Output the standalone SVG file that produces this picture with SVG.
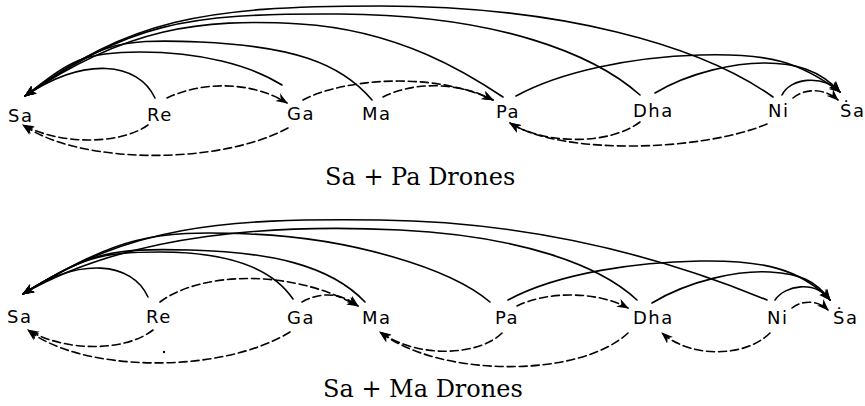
<svg xmlns="http://www.w3.org/2000/svg" width="865" height="406" viewBox="0 0 865 406">
<style>
.lbl{font-family:"DejaVu Sans","Liberation Sans",sans-serif;font-size:18px;letter-spacing:1.5px;fill:#000}
.ttl{font-family:"DejaVu Serif","Liberation Serif",serif;font-size:24px;fill:#000}
.c{fill:none;stroke:#000;stroke-width:1.6;stroke-linecap:round}
.s{marker-end:url(#ah)}
.d{stroke-dasharray:8 4}
</style>
<defs>
<marker id="ah" viewBox="0 0 12 10" refX="11" refY="5" markerWidth="12" markerHeight="10" markerUnits="userSpaceOnUse" orient="auto">
<path d="M0,0.5 L12,5 L0,9.5 L3.5,5 Z" fill="#000"/>
</marker>
</defs>
<rect width="865" height="406" fill="#fff"/>

<g id="connectors-top">
<path class="c s" d="M155,98 C138,62 85,56 25,96"/>
<path class="c s" d="M282,85 C250,65 200,52 140,52 S70,62 25,96"/>
<path class="c s" d="M372,100 C340,62 290,46 200,42 S100,45 25,96"/>
<path class="c s" d="M503,97 C470,75 400,30 300,24 S125,28 25,96"/>
<path class="c s" d="M640,95 C595,55 500,15 340,14 S130,24 25,96"/>
<path class="c s" d="M773,97 C700,45 560,6 380,6 S130,20 25,96"/>
<path class="c s" d="M516,96 C560,72 630,57 700,55 S800,62 840,92"/>
<path class="c s" d="M655,93 C690,72 735,63 765,63 S820,70 840,92"/>
<path class="c s" d="M782,95 C790,78 822,74 840,92"/>
<path class="c s d" d="M167,98 C200,82 250,80 287,103"/>
<path class="c s d" d="M303,100 C340,80 430,70 493,100"/>
<path class="c s d" d="M383,97 C410,83 455,80 493,100"/>
<path class="c s d" d="M793,98 C805,88 825,88 838,100"/>
<path class="c s d" d="M148,125 C120,145 60,145 23,125"/>
<path class="c s d" d="M288,128 C220,165 80,165 23,125"/>
<path class="c s d" d="M640,122 C610,145 545,145 510,123"/>
<path class="c s d" d="M767,124 C700,152 560,155 510,123"/>
</g>

<g id="connectors-bottom">
<path class="c s" d="M148,297 C132,262 80,256 23,294"/>
<path class="c s" d="M293,299 C270,265 220,252 160,252 S80,258 23,294"/>
<path class="c s" d="M365,302 C330,265 270,252 190,250 S90,252 23,294"/>
<path class="c s" d="M490,302 C450,268 350,238 250,234 S120,236 23,294"/>
<path class="c s" d="M637,300 C600,265 520,236 400,230 S130,232 23,294"/>
<path class="c s" d="M767,300 C670,260 540,222 380,220 S130,226 23,294"/>
<path class="c s" d="M508,300 C560,272 640,262 700,261 S800,268 830,300"/>
<path class="c s" d="M652,303 C690,280 740,270 770,272 S815,280 830,300"/>
<path class="c s" d="M775,300 C785,285 815,280 830,300"/>
<path class="c s d" d="M160,302 C200,272 290,268 358,306"/>
<path class="c s d" d="M302,302 C320,292 340,292 358,306"/>
<path class="c s d" d="M517,306 C545,292 595,290 628,308"/>
<path class="c s d" d="M792,308 C802,300 818,300 828,310"/>
<path class="c s d" d="M153,330 C125,352 65,352 28,330"/>
<path class="c s d" d="M290,332 C220,375 80,372 28,330"/>
<path class="c s d" d="M502,333 C480,355 420,360 380,332"/>
<path class="c s d" d="M628,333 C580,378 440,378 380,332"/>
<path class="c s d" d="M770,333 C745,358 690,358 662,333"/>
<circle cx="164" cy="352" r="1.2" fill="#000"/>
</g>

<g id="top-Sa"><text class="lbl" x="8" y="122">Sa</text></g>
<g id="top-Re"><text class="lbl" x="147" y="121">Re</text></g>
<g id="top-Ga"><text class="lbl" x="287" y="120">Ga</text></g>
<g id="top-Ma"><text class="lbl" x="362" y="120">Ma</text></g>
<g id="top-Pa"><text class="lbl" x="496" y="118">Pa</text></g>
<g id="top-Dha"><text class="lbl" x="633" y="117">Dha</text></g>
<g id="top-Ni"><text class="lbl" x="768" y="117">Ni</text></g>
<g id="top-Sa2"><text class="lbl" x="840" y="117">Ṡa</text></g>
<g id="title-top"><text class="ttl" x="325" y="185">Sa + Pa Drones</text></g>

<g id="bot-Sa"><text class="lbl" x="7" y="323">Sa</text></g>
<g id="bot-Re"><text class="lbl" x="146" y="323">Re</text></g>
<g id="bot-Ga"><text class="lbl" x="287" y="324">Ga</text></g>
<g id="bot-Ma"><text class="lbl" x="362" y="324">Ma</text></g>
<g id="bot-Pa"><text class="lbl" x="495" y="324">Pa</text></g>
<g id="bot-Dha"><text class="lbl" x="633" y="324">Dha</text></g>
<g id="bot-Ni"><text class="lbl" x="767" y="324">Ni</text></g>
<g id="bot-Sa2"><text class="lbl" x="833" y="324">Ṡa</text></g>
<g id="title-bottom"><text class="ttl" x="323" y="397">Sa + Ma Drones</text></g>
</svg>
